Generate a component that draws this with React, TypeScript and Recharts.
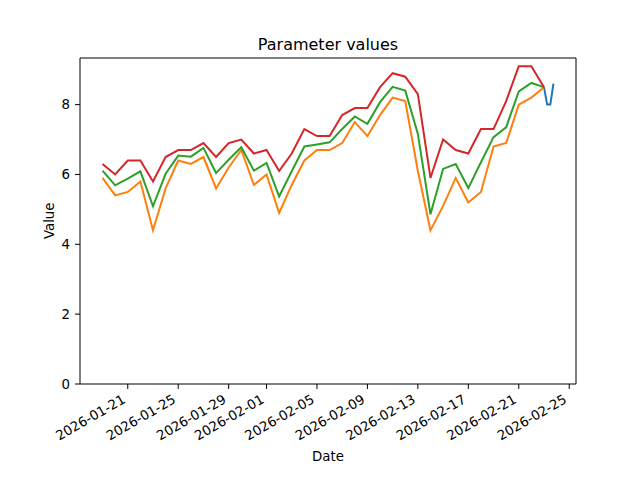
import React from 'react';
import { LineChart, Line, XAxis, YAxis, ReferenceLine } from 'recharts';

// daily dates for the band series
const dates = [
    '2026-01-19', '2026-01-20', '2026-01-21', '2026-01-22', '2026-01-23', '2026-01-24',
    '2026-01-25', '2026-01-26', '2026-01-27', '2026-01-28', '2026-01-29', '2026-01-30',
    '2026-01-31', '2026-02-01', '2026-02-02', '2026-02-03', '2026-02-04', '2026-02-05',
    '2026-02-06', '2026-02-07', '2026-02-08', '2026-02-09', '2026-02-10', '2026-02-11',
    '2026-02-12', '2026-02-13', '2026-02-14', '2026-02-15', '2026-02-16', '2026-02-17',
    '2026-02-18', '2026-02-19', '2026-02-20', '2026-02-21', '2026-02-22', '2026-02-23',
]

const lowerValues = [
    5.9, 5.4, 5.5, 5.8, 4.4, 5.6, 6.4, 6.3, 6.5, 5.6, 6.2, 6.7,
    5.7, 6.0, 4.9, 5.7, 6.4, 6.7, 6.7, 6.9, 7.5, 7.1, 7.7, 8.2,
    8.1, 6.1, 4.4, 5.1, 5.9, 5.2, 5.5, 6.8, 6.9, 8.0, 8.2, 8.5,
]

const meanValues = [
    6.11, 5.69, 5.88, 6.09, 5.09, 6.02, 6.54, 6.51, 6.76, 6.04, 6.42, 6.78,
    6.11, 6.33, 5.37, 6.09, 6.8, 6.86, 6.92, 7.3, 7.66, 7.45, 8.07, 8.51,
    8.4, 7.16, 4.86, 6.16, 6.3, 5.61, 6.35, 7.07, 7.35, 8.38, 8.62, 8.5,
]

const upperValues = [
    6.3, 6.0, 6.4, 6.4, 5.8, 6.5, 6.7, 6.7, 6.9, 6.5, 6.9, 7.0,
    6.6, 6.7, 6.1, 6.6, 7.3, 7.1, 7.1, 7.7, 7.9, 7.9, 8.5, 8.9,
    8.8, 8.3, 5.9, 7.0, 6.7, 6.6, 7.3, 7.3, 8.1, 9.1, 9.1, 8.5,
]

// latest readings (intraday)
const recentTimes = ['2026-02-23T00:00', '2026-02-23T06:00', '2026-02-23T12:00', '2026-02-23T18:00']
const recentValues = [8.5, 8.0, 8.0, 8.6]

const dateTicks = [
    '2026-01-21', '2026-01-25', '2026-01-29', '2026-02-01', '2026-02-05',
    '2026-02-09', '2026-02-13', '2026-02-17', '2026-02-21', '2026-02-25',
]
const valueTicks = [0, 2, 4, 6, 8]

const FONT = 'DejaVu Sans'

const toTime = (s: string) => Date.parse(s.length > 10 ? s + ':00Z' : s + 'T00:00:00Z')
const fmtDate = (t: number) => new Date(t).toISOString().slice(0, 10)

const makeSeries = (values: number[]) => dates.map((d, i) => ({ t: toTime(d), v: values[i] }))

const recentSeries = recentTimes.map((d, i) => ({ t: toTime(d), v: recentValues[i] }))
const lowerSeries = makeSeries(lowerValues)
const meanSeries = makeSeries(meanValues)
const upperSeries = makeSeries(upperValues)

const allTimes = [...dates.map(toTime), ...recentTimes.map(toTime)]
const tMin = Math.min(...allTimes)
const tMax = Math.max(...allTimes)
const tPad = (tMax - tMin) * 0.05
const xDomain = [tMin - tPad, tMax + tPad]

const allValues = [...lowerValues, ...meanValues, ...upperValues, ...recentValues]
const vMin = Math.min(...allValues)
const vMax = Math.max(...allValues)
const yTop = vMax + (vMax - vMin) * 0.05

const DateTick = (props: any) => {
    const { x, y, payload } = props
    const ax = x - 1.5
    const ay = y + 9
    return (
        <text
            x={ax}
            y={ay}
            textAnchor="end"
            transform={`rotate(-30, ${ax}, ${ay})`}
            fontSize={13.33}
            fontFamily={FONT}
            fill="#000"
        >
            {fmtDate(payload.value)}
        </text>
    )
}

const App = () => {
    return (
        <div style={{ position: 'absolute', left: 0, top: 0, width: 640, height: 480, background: '#fff' }}>
            <LineChart
                width={640}
                height={480}
                margin={{ top: 58, right: 64, left: 20, bottom: 16 }}
                style={{ position: 'absolute', left: 0, top: 0 }}
            >
                <XAxis
                    type="number"
                    dataKey="t"
                    domain={xDomain}
                    allowDataOverflow
                    ticks={dateTicks.map(toTime)}
                    tick={<DateTick />}
                    tickSize={5}
                    tickMargin={4}
                    height={80}
                    stroke="#000"
                    interval={0}
                />
                <YAxis
                    type="number"
                    dataKey="v"
                    domain={[0, yTop]}
                    allowDataOverflow
                    ticks={valueTicks}
                    tick={{ fontSize: 13.33, fill: '#000', fontFamily: FONT }}
                    tickSize={5}
                    tickMargin={5}
                    width={60}
                    stroke="#000"
                    interval={0}
                />
                <ReferenceLine y={yTop} stroke="#000" strokeWidth={1} />
                <ReferenceLine x={xDomain[1]} stroke="#000" strokeWidth={1} />
                <Line data={recentSeries} dataKey="v" type="linear" stroke="#1f77b4" strokeWidth={2} dot={false} isAnimationActive={false} />
                <Line data={lowerSeries} dataKey="v" type="linear" stroke="#ff7f0e" strokeWidth={2} dot={false} isAnimationActive={false} />
                <Line data={meanSeries} dataKey="v" type="linear" stroke="#2ca02c" strokeWidth={2} dot={false} isAnimationActive={false} />
                <Line data={upperSeries} dataKey="v" type="linear" stroke="#d62728" strokeWidth={2} dot={false} isAnimationActive={false} />
            </LineChart>
            <svg width={640} height={480} style={{ position: 'absolute', left: 0, top: 0, pointerEvents: 'none' }}>
                <text x={328} y={49.5} textAnchor="middle" fontSize={16} fontFamily={FONT} fill="#000">
                    Parameter values
                </text>
                <text x={328} y={461} textAnchor="middle" fontSize={13.33} fontFamily={FONT} fill="#000">
                    Date
                </text>
                <text
                    x={0}
                    y={0}
                    textAnchor="middle"
                    fontSize={13.33}
                    fontFamily={FONT}
                    fill="#000"
                    transform="translate(53.5, 220.8) rotate(-90)"
                >
                    Value
                </text>
            </svg>
        </div>
    )
}

export default App
